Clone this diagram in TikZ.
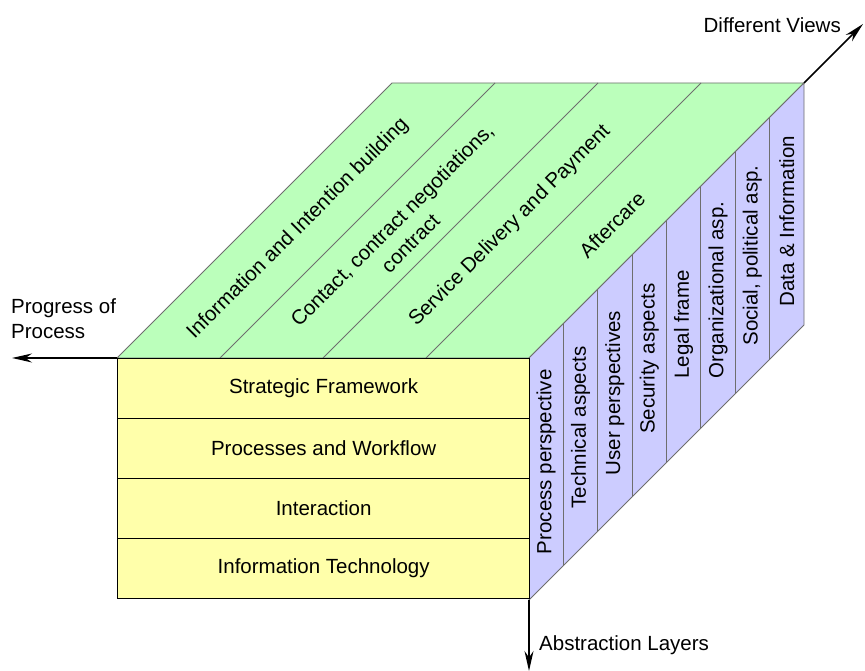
\documentclass[tikz,border=0pt]{standalone}
\usepackage{fontspec}
\setmainfont{Liberation Sans}
\usetikzlibrary{arrows.meta}
\definecolor{topg}{RGB}{187,255,187}
\definecolor{frontY}{RGB}{255,255,170}
\definecolor{sideP}{RGB}{204,204,255}
\definecolor{edgeG}{RGB}{110,110,110}
\tikzset{
  lbl/.style={font=\fontsize{20.5}{26}\selectfont, text=black, inner sep=0pt, align=center},
  rowbox/.style={draw=black, line width=1.3pt, fill=frontY, minimum width=412pt, minimum height=60pt, inner sep=0pt, anchor=north west, font=\fontsize{20.5}{24}\selectfont},
  axis/.style={draw=black, line width=1.5pt, -{Stealth[length=20pt,width=9pt]}},
  faceedge/.style={draw=edgeG, line width=0.8pt}
}
\begin{document}
\begin{tikzpicture}[x=1pt,y=1pt]
\useasboundingbox (0,0) rectangle (865,671);
% corner coordinates
\coordinate (FL) at (117,313);
\coordinate (FR) at (529,313);
\coordinate (BR) at (804,588);
\coordinate (BL) at (392,588);
\coordinate (FRB) at (529,71);
\coordinate (BRB) at (804,346);
% top face
\fill[topg] (FL) -- (FR) -- (BR) -- (BL) -- cycle;
\foreach \i in {1,2,3} {
  \draw[faceedge] ({117+103*\i},313) -- ({392+103*\i},588);
}
\draw[faceedge] (FL) -- (FR) -- (BR) -- (BL) -- cycle;
% right face
\fill[sideP] (FR) -- (BR) -- (BRB) -- (FRB) -- cycle;
\foreach \i in {1,...,7} {
  \draw[faceedge] ({529+34.375*\i},{313+34.375*\i}) -- ({529+34.375*\i},{71+34.375*\i});
}
\draw[faceedge] (FR) -- (BR) -- (BRB) -- (FRB) -- cycle;
% front rows
\node[rowbox] (r1) at (117,313) {Strategic Framework};
\node[rowbox] (r2) at (117,253) {Processes and Workflow};
\node[rowbox] (r3) at (117,193) {Interaction};
\node[rowbox] (r4) at (117,133) {Information Technology};
% top labels
\node[lbl, rotate=45] (t1) at (298,442) {Information and Intention building};
\node[lbl, rotate=45] (t2) at (401,437) {Contact, contract negotiations,\\contract};
\node[lbl, rotate=45] (t3) at (510,445) {Service Delivery and Payment};
\node[lbl, rotate=45] (t4) at (612,446) {Aftercare};
% side labels
\foreach \t [count=\k from 0] in {{Process perspective}, {Technical aspects}, {User perspectives}, {Security aspects}, {Legal frame}, {Organizational asp.}, {Social, political asp.}, {Data \& Information}} {
  \pgfmathsetmacro{\xc}{529+34.375*(\k+0.5)}
  \pgfmathsetmacro{\yc}{192+34.375*(\k+0.5)}
  \node[lbl, rotate=90] (s\k) at (\xc,\yc) {\t};
}
% axes
\coordinate (pEnd) at (12,313);
\coordinate (aEnd) at (529,0);
\coordinate (dEnd) at (863,647);
\draw[axis] (FL) -- (pEnd);
\draw[axis] (FRB) -- (aEnd);
\draw[axis] (BR) -- (dEnd);
\node[lbl, align=left, anchor=north west, font=\fontsize{20.5}{25}\selectfont] (pl) at (11,373) {Progress of\\Process};
\node[lbl, anchor=west] (al) at (539,26) {Abstraction Layers};
\node[lbl, anchor=east] (dl) at (841,646) {Different Views};
\end{tikzpicture}
\end{document}
